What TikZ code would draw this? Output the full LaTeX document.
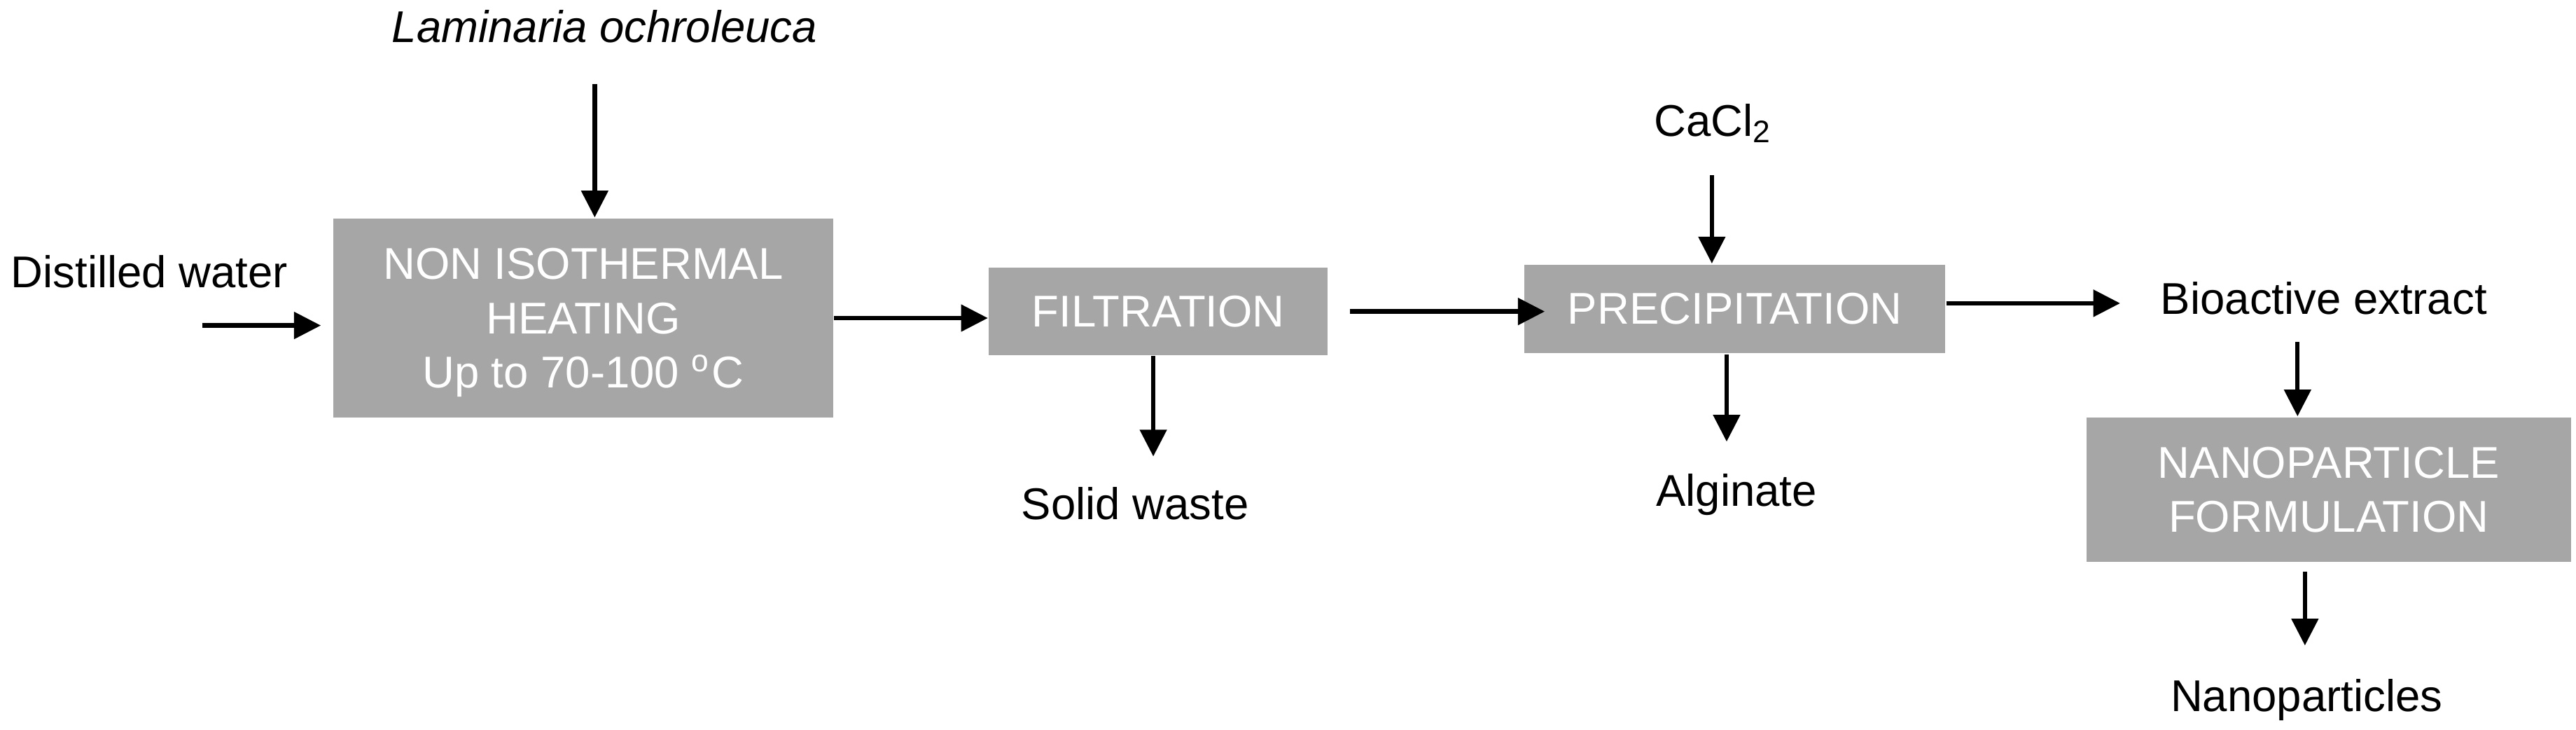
\documentclass[tikz,border=0pt]{standalone}
\usepackage{fontspec}
\setmainfont{Liberation Sans}
\usetikzlibrary{arrows.meta}
\definecolor{boxgray}{HTML}{A6A6A6}

\begin{document}
\begin{tikzpicture}[
    x=0.1mm, y=-0.1mm,
    process/.style={fill=boxgray, text=white, inner sep=0pt, align=center},
    stream/.style={anchor=base, inner sep=0pt},
    flow/.style={-{Triangle[length=1.63mm, width=1.6mm]}, line width=0.77pt},
    every node/.style={font=\fontsize{7.7}{9.4}\selectfont}
  ]
  \useasboundingbox (0,0) rectangle (1568,444);

  % Extraction
  \node[process, text depth=0pt, minimum width=30.4mm, minimum height=12.1mm] (heat) at (355,193.5)
    {NON ISOTHERMAL\\HEATING\\Up to 70-100 \textsuperscript{o}C};
  \node[stream, font=\fontsize{7.7}{9.4}\selectfont\itshape] (lam) at (368,25.6) {Laminaria ochroleuca};
  \node[stream] (water) at (91,175) {Distilled water};
  \coordinate (lam-in) at (362,51);
  \coordinate (water-in) at (123,198);

  % Filtration
  \node[process, minimum width=20.6mm, minimum height=5.3mm] (filt) at (705,189.5) {FILTRATION};
  \node[stream] (waste) at (691,316) {Solid waste};

  % Precipitation
  \node[process, minimum width=25.6mm, minimum height=5.4mm] (precip) at (1056,188) {PRECIPITATION};
  \node[stream] (cacl) at (1043,83) {CaCl\textsubscript{2}};
  \node[stream] (alg) at (1057,308) {Alginate};
  \coordinate (cacl-in) at (1042,106.5);

  % Nanoparticles
  \node[stream] (bio) at (1414.5,191) {Bioactive extract};
  \node[process, minimum width=29.5mm, minimum height=8.8mm] (nano) at (1417.5,298)
    {NANOPARTICLE\\FORMULATION};
  \node[stream] (nanop) at (1404,433) {Nanoparticles};

  % Connections
  \draw[flow] (lam-in) -- (lam-in |- heat.north);
  \draw[flow, shorten >=0.7mm] (water-in) -- (water-in -| heat.west);
  \draw[flow] (heat.east) -- (heat.east -| filt.west);
  \draw[flow, shorten >=1.8mm] ([xshift=-0.3mm]filt.south) -- ([xshift=-0.3mm]filt.south |- waste.north);
  \draw[flow] ([xshift=1.3mm]filt.east) -- ([xshift=1.3mm]filt.east -| precip.west);
  \draw[flow] (cacl-in) -- (cacl-in |- precip.north);
  \draw[flow, shorten >=1.9mm] ([xshift=-0.5mm]precip.south) -- ([xshift=-0.5mm]precip.south |- alg.north);
  \draw[flow, shorten >=2.4mm] ([yshift=0.35mm]precip.east) -- ([yshift=0.35mm]precip.east -| bio.west);
  \draw[flow, shorten <=1.6mm] ([xshift=-1.6mm]bio.south) -- ([xshift=-1.6mm]bio.south |- nano.north);
  \draw[flow, shorten <=0.5mm, shorten >=2mm] ([xshift=-1.45mm]nano.south) -- ([xshift=-1.45mm]nano.south |- nanop.north);

\end{tikzpicture}
\end{document}
